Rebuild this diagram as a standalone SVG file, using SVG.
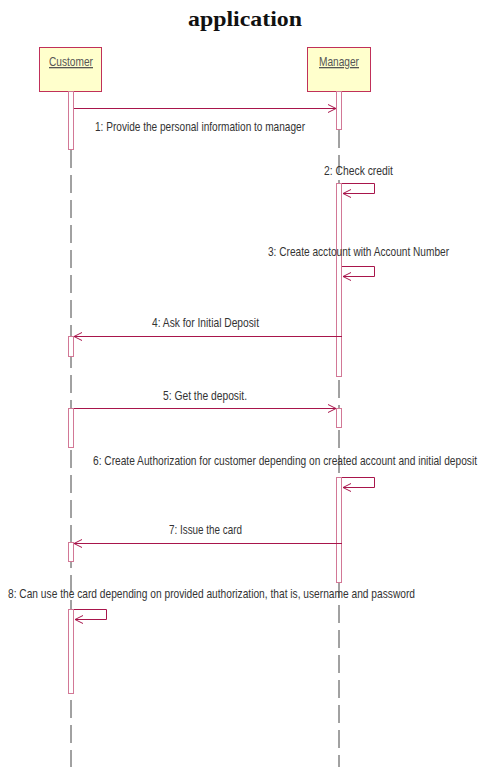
<svg xmlns="http://www.w3.org/2000/svg" width="481" height="767" viewBox="0 0 481 767">
  <style>
    .title { font-family: "Liberation Serif", "Times New Roman", serif; font-weight: bold; font-size: 22px; fill: #111; }
    .obj { fill: #ffffcc; stroke: #c0305a; stroke-width: 1; }
    .objname { font-family: "Liberation Sans", Arial, sans-serif; font-size: 13px; fill: #555; text-decoration: underline; }
    .life { stroke: #444; stroke-width: 1; stroke-dasharray: 18 7; fill: none; }
    .act { fill: #ffffff; stroke: #d27896; stroke-width: 1; }
    .msg { stroke: #a8154b; stroke-width: 1; fill: none; }
    .lbl { font-family: "Liberation Sans", Arial, sans-serif; font-size: 13.5px; fill: #333; }
  </style>
  <defs>
    <marker id="open" markerWidth="10" markerHeight="10" refX="9" refY="5" orient="auto" markerUnits="userSpaceOnUse">
      <path d="M1,1 L9,5 L1,9" fill="none" stroke="#a8154b" stroke-width="1"/>
    </marker>
  </defs>
  <rect width="481" height="767" fill="#ffffff"/>

  <text class="title" x="188" y="26" textLength="114" lengthAdjust="spacingAndGlyphs">application</text>

  <!-- lifelines -->
  <g id="lifelines">
    <line class="life" x1="71" y1="150" x2="71" y2="767"/>
    <line class="life" x1="339" y1="130" x2="339" y2="767"/>
  </g>

  <g id="customer">
    <rect class="obj" x="39.5" y="47.5" width="62" height="44"/>
    <text class="objname" x="49" y="66" textLength="44" lengthAdjust="spacingAndGlyphs">Customer</text>
  </g>
  <g id="manager">
    <rect class="obj" x="307.5" y="47.5" width="63" height="44"/>
    <text class="objname" x="319" y="66" textLength="40" lengthAdjust="spacingAndGlyphs">Manager</text>
  </g>

  <!-- activation bars -->
  <g id="activations">
    <rect class="act" x="68.5" y="91.5" width="5" height="58"/>
    <rect class="act" x="68.5" y="336.5" width="5" height="20"/>
    <rect class="act" x="68.5" y="408.5" width="5" height="39"/>
    <rect class="act" x="68.5" y="542.5" width="5" height="19"/>
    <rect class="act" x="68.5" y="609.5" width="5" height="84"/>
    <rect class="act" x="336.5" y="91.5" width="5" height="38"/>
    <rect class="act" x="336.5" y="183.5" width="5" height="193"/>
    <rect class="act" x="336.5" y="408.5" width="5" height="19"/>
    <rect class="act" x="336.5" y="477.5" width="5" height="105"/>
  </g>

  <!-- messages -->
  <g id="connectors">
    <line class="msg" x1="74" y1="108.5" x2="336" y2="108.5" marker-end="url(#open)"/>
    <path class="msg" d="M342,183.5 H374.5 V193.5 H343" marker-end="url(#open)"/>
    <path class="msg" d="M342,266.5 H374.5 V276.5 H343" marker-end="url(#open)"/>
    <line class="msg" x1="342" y1="336.5" x2="74" y2="336.5" marker-end="url(#open)"/>
    <line class="msg" x1="74" y1="408.5" x2="336" y2="408.5" marker-end="url(#open)"/>
    <path class="msg" d="M342,477.5 H374.5 V487.5 H343" marker-end="url(#open)"/>
    <line class="msg" x1="342" y1="543.5" x2="74" y2="543.5" marker-end="url(#open)"/>
    <path class="msg" d="M74,609.5 H106.5 V619.5 H75" marker-end="url(#open)"/>
  </g>

  <!-- message labels -->
  <g id="labels">
    <text class="lbl" x="95" y="131" textLength="210" lengthAdjust="spacingAndGlyphs">1: Provide the personal information to manager</text>
    <text class="lbl" x="324" y="175" textLength="69" lengthAdjust="spacingAndGlyphs">2: Check credit</text>
    <text class="lbl" x="268" y="256" textLength="181" lengthAdjust="spacingAndGlyphs">3: Create acctount with Account Number</text>
    <text class="lbl" x="152" y="327" textLength="107" lengthAdjust="spacingAndGlyphs">4: Ask for Initial Deposit</text>
    <text class="lbl" x="163" y="400" textLength="84" lengthAdjust="spacingAndGlyphs">5: Get the deposit.</text>
    <text class="lbl" x="93" y="465" textLength="384" lengthAdjust="spacingAndGlyphs">6: Create Authorization for customer depending on created account and initial deposit</text>
    <text class="lbl" x="169" y="534" textLength="73" lengthAdjust="spacingAndGlyphs">7: Issue the card</text>
    <text class="lbl" x="8" y="598" textLength="407" lengthAdjust="spacingAndGlyphs">8: Can use the card depending on provided authorization, that is, username and password</text>
  </g>
</svg>
